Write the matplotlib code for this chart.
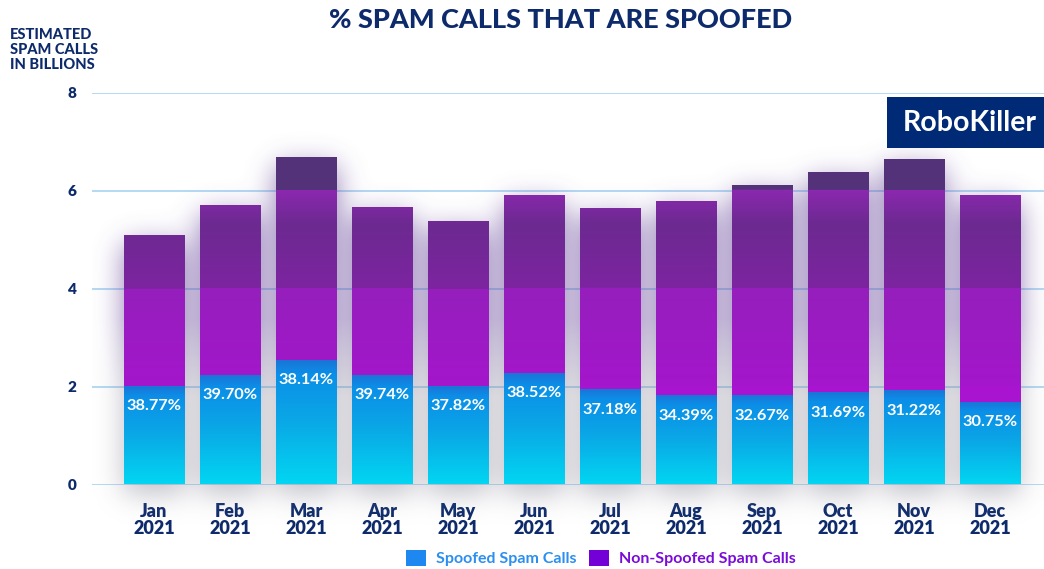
import numpy as np
import matplotlib
matplotlib.use("Agg")
import matplotlib.pyplot as plt
from matplotlib.patches import Patch, Rectangle
from matplotlib.colors import to_rgb

# ---------------- data ----------------
months = ["Jan", "Feb", "Mar", "Apr", "May", "Jun", "Jul", "Aug", "Sep", "Oct", "Nov", "Dec"]
year = "2021"
spoofed = [2.02, 2.23, 2.54, 2.23, 2.02, 2.27, 1.94, 1.82, 1.82, 1.88, 1.92, 1.68]
non_spoofed = [3.07, 3.48, 4.15, 3.43, 3.36, 3.64, 3.70, 3.97, 4.29, 4.50, 4.73, 4.23]
pct_labels = ["38.77%", "39.70%", "38.14%", "39.74%", "37.82%", "38.52%",
              "37.18%", "34.39%", "32.67%", "31.69%", "31.22%", "30.75%"]
yticks = [0, 2, 4, 6, 8]
series_names = ["Spoofed Spam Calls", "Non-Spoofed Spam Calls"]

NAVY = "#0d2a6b"
FONT = "Lato"
plt.rcParams["font.family"] = [FONT, "DejaVu Sans"]

fig = plt.figure(figsize=(10.44, 5.69), dpi=100)
ax = fig.add_axes([92 / 1044, 84.5 / 569, 1 - 92 / 1044, 391.8 / 569])
XMIN, XMAX = -0.816, 11.71
YMIN, YMAX = 0, 8

x = np.arange(len(months))
b1 = ax.bar(x, spoofed, width=0.8, color="none", linewidth=0, zorder=2)
b2 = ax.bar(x, non_spoofed, bottom=spoofed, width=0.8, color="none", linewidth=0, zorder=2)


def interp_colors(stops, vals):
    pos = np.array([s[0] for s in stops])
    cols = np.array([to_rgb(s[1]) for s in stops])
    return np.stack([np.interp(vals, pos, cols[:, c]) for c in range(3)], axis=-1)


blue_stops = [(0.0, "#02d6f2"), (0.5, "#0aa8e6"), (0.88, "#0b8fe8"), (1.0, "#1c72d6")]
purple_stops = [(0.0, "#b216d8"), (1.995, "#a814cf"), (2.005, "#a416cc"), (3.995, "#951fbc"),
                (4.005, "#7d24a1"), (5.3, "#6c2a90"), (5.995, "#8b28af"), (6.005, "#54327a"),
                (8.0, "#54327a")]

N = 600
for p in b1:
    x0, w, y0, h = p.get_x(), p.get_width(), p.get_y(), p.get_height()
    t = np.linspace(0, 1, N)
    img = interp_colors(blue_stops, t)[:, None, :]
    im = ax.imshow(img, extent=(x0, x0 + w, y0, y0 + h), origin="lower",
                   aspect="auto", interpolation="bilinear", zorder=2)
    im.set_clip_path(p)
for p in b2:
    x0, w, y0, h = p.get_x(), p.get_width(), p.get_y(), p.get_height()
    yy = np.linspace(y0, y0 + h, N)
    img = interp_colors(purple_stops, yy)[:, None, :]
    im = ax.imshow(img, extent=(x0, x0 + w, y0, y0 + h), origin="lower",
                   aspect="auto", interpolation="nearest", zorder=2)
    im.set_clip_path(p)

# ---------------- soft shadow behind the bars ----------------
SY0, SY1 = -1.4, 8.6
nx = 952
ny = int((SY1 - SY0) * 49)
gx = np.linspace(XMIN, XMAX, nx)
gy = np.linspace(SY0, SY1, ny)
GX, GY = np.meshgrid(gx, gy)
mask = np.zeros((ny, nx))
off = 0.18
for p1, p2 in zip(b1, b2):
    x0, w = p2.get_x(), p2.get_width()
    top = p2.get_y() + p2.get_height()
    mask[(GX >= x0) & (GX <= x0 + w) & (GY >= -off) & (GY <= top - off)] = 1.0


def gauss_blur(a, sig_r, sig_c):
    def k(s):
        r = int(3 * s)
        t = np.arange(-r, r + 1)
        kk = np.exp(-0.5 * (t / s) ** 2)
        return kk / kk.sum()
    kc, kr = k(sig_c), k(sig_r)
    a = np.apply_along_axis(lambda v: np.convolve(v, kc, mode="same"), 1, a)
    a = np.apply_along_axis(lambda v: np.convolve(v, kr, mode="same"), 0, a)
    return a


blur = gauss_blur(mask, 14, 14)
tcol = np.clip((GY - 1.8) / 1.6, 0, 1)[..., None]
gray = np.array(to_rgb("#8e8e9e"))
purp = np.array(to_rgb("#6a4a9c"))
rgb = gray * (1 - tcol) + purp * tcol
alpha = blur * (0.58 + 0.14 * tcol[..., 0])
rgba = np.concatenate([rgb, alpha[..., None]], axis=-1)
sh = ax.imshow(rgba, extent=(XMIN, XMAX, SY0, SY1), origin="lower", aspect="auto",
               interpolation="bilinear", zorder=1)
sh.set_clip_on(False)

# ---------------- labels on bars ----------------
for p, lab in zip(b1, pct_labels):
    ax.annotate(lab, (p.get_x() + p.get_width() / 2, p.get_y() + p.get_height()),
                xytext=(0, -14.5), textcoords="offset points", ha="center", va="center",
                color="white", fontsize=11.8, fontweight="bold", zorder=5)

# ---------------- axes styling ----------------
ax.set_xlim(XMIN, XMAX)
ax.set_ylim(YMIN, YMAX)
ax.set_yticks(yticks)
ax.set_yticklabels([str(v) for v in yticks])
ax.set_xticks(x)
ax.set_xticklabels([f"{m}\n{year}" for m in months], linespacing=1.0)
for s in ax.spines.values():
    s.set_visible(False)
ax.tick_params(axis="y", length=0, pad=11, labelsize=11, labelcolor=NAVY)
ax.tick_params(axis="x", length=0, pad=13, labelsize=13, labelcolor=NAVY)
for lbl in ax.get_xticklabels() + ax.get_yticklabels():
    lbl.set_fontweight("heavy")
ax.set_axisbelow(True)
ax.yaxis.grid(True, color="#b3d9f4", linewidth=1.4)
ax.xaxis.grid(False)
ax.patch.set_alpha(0)

# ---------------- titles ----------------
fig.text(561 / 1044, 1 - 20 / 569, "% SPAM CALLS THAT ARE SPOOFED", ha="center", va="center",
         fontsize=19.5, fontweight="black", color=NAVY)
fig.text(10 / 1044, 1 - 28 / 569, "ESTIMATED\nSPAM CALLS\nIN BILLIONS", ha="left", va="top",
         fontsize=10.5, fontweight="black", color=NAVY, linespacing=1.1)

# ---------------- logo ----------------
fig.patches.append(Rectangle((887 / 1044, 1 - 148 / 569), 157 / 1044, 51 / 569,
                             transform=fig.transFigure, facecolor="#012a76",
                             edgecolor="none", zorder=5))
fig.text(969.5 / 1044, 1 - 123 / 569, "RoboKiller", ha="center", va="center",
         fontsize=20.5, fontweight="bold", color="white", zorder=6)

# ---------------- legend ----------------
handles = [Patch(facecolor="#1e88f0", edgecolor="none"),
           Patch(facecolor="#7400d8", edgecolor="none")]
fig.legend(handles, series_names, loc="center", bbox_to_anchor=(601 / 1044, 11 / 569),
           ncol=2, frameon=False, labelcolor=["#2a8ff0", "#7a0cd8"],
           prop={"family": FONT, "weight": "bold", "size": 11.5},
           handlelength=1.25, handleheight=1.25, handletextpad=0.6, columnspacing=0.8,
           borderpad=0, borderaxespad=0)

fig.savefig("out.png", dpi=100)
